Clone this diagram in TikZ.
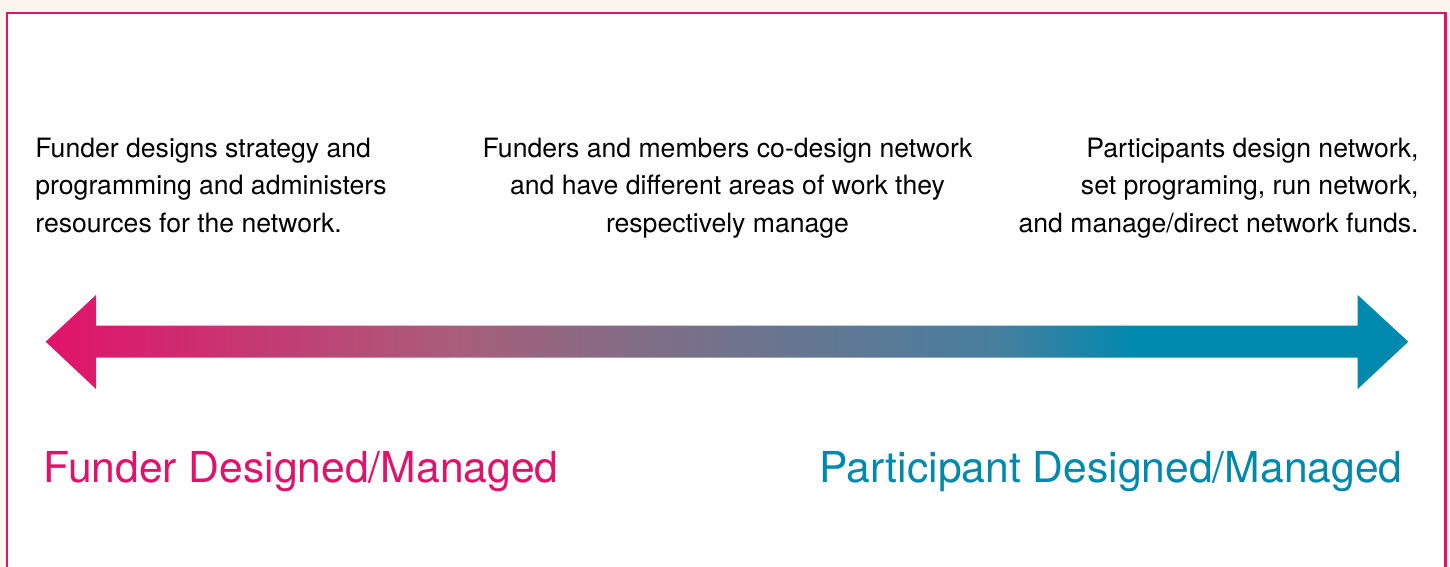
\documentclass[tikz,border=0pt]{standalone}
\usepackage{fontspec}
\setmainfont{TeX Gyre Heros}
\usepackage{xcolor}
\usepackage{tikz}
\usetikzlibrary{positioning}

\definecolor{funderpink}{HTML}{E2126A}
\definecolor{participantteal}{HTML}{0089AE}
\definecolor{paper}{HTML}{FFF5EF}
\definecolor{mauve}{HTML}{A95E7A}
\definecolor{slate}{HTML}{7A7088}
\definecolor{steel}{HTML}{467F9E}

% degradado de rosa a azul verdoso
\pgfdeclarehorizontalshading{spectrum}{100bp}{%
  color(0bp)=(funderpink); color(25bp)=(funderpink);
  color(40bp)=(mauve); color(48bp)=(slate);
  color(60bp)=(steel); color(65bp)=(participantteal);
  color(100bp)=(participantteal)}

\tikzset{
  blurb/.style={font=\fontsize{13.35}{18.75}\selectfont, inner sep=0pt, text=black},
  endlabel/.style={font=\fontsize{21.4}{24}\selectfont, inner sep=0pt, anchor=base west}
}

\begin{document}
\begin{tikzpicture}[x=0.5bp,y=-0.5bp]
    % Marco y fondo
    \useasboundingbox (0,0) rectangle (1450,567);
    \clip (0,0) rectangle (1450,567);
    \fill[paper] (0,0) rectangle (1450,567);
    \draw[funderpink,line width=1.1bp,fill=white] (7,13) rectangle (1445.5,600);

    % Puntos clave de la flecha
    \def\ytop{295}      % parte alta de las puntas
    \def\ybot{389}      % parte baja de las puntas
    \def\shtop{325.7}   % borde superior del cuerpo
    \def\shbot{357.7}   % borde inferior del cuerpo
    \coordinate (lefttip) at (45.7,341.7);
    \coordinate (righttip) at (1408.3,341.7);
    \coordinate (leftback) at (96,341.7);
    \coordinate (rightback) at (1357.7,341.7);

    % Flecha doble con degradado
    \shade[shading=spectrum]
      (lefttip) -- (leftback |- 0,\ytop) -- (leftback |- 0,\shtop)
      -- (rightback |- 0,\shtop) -- (rightback |- 0,\ytop) -- (righttip)
      -- (rightback |- 0,\ybot) -- (rightback |- 0,\shbot)
      -- (leftback |- 0,\shbot) -- (leftback |- 0,\ybot) -- cycle;

    % Descripciones
    \node[blurb, align=left, anchor=north west] (funderblurb) at (35,137.5)
      {Funder designs strategy and\\programming and administers\\resources for the network.};
    \node[blurb, align=center, anchor=north] (sharedblurb) at (727.5,137.5)
      {Funders and members co-design network\\and have different areas of work they\\respectively manage};
    \node[blurb, align=right, anchor=north east] (participantblurb) at (1419,137.5)
      {Participants design network,\\set programing, run network,\\and manage/direct network funds.};

    % Extremos de la escala
    \node[endlabel, text=funderpink] (funderend) at (43,482.3) {Funder Designed/Managed};
    \node[endlabel, text=participantteal, anchor=base east] (participantend) at (1403,482.3) {Participant Designed/Managed};
\end{tikzpicture}
\end{document}
